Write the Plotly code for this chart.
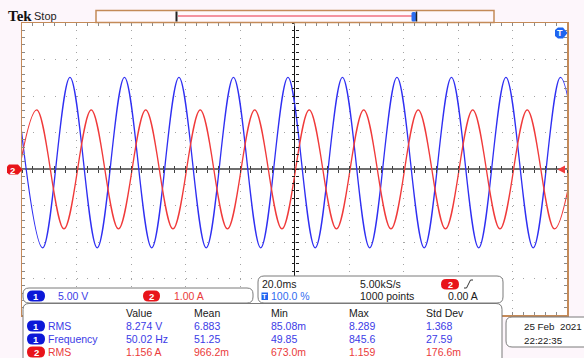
import plotly.graph_objects as go

W, H = 584, 358

# Channel 1 (blue, volts): times (ms, relative to screen centre) of successive peaks / troughs
ch1_time_ms = [-102.4, -92.4, -82.4, -72.4, -62.4, -52.4, -42.4, -32.4, -22.4, -12.4, -2.4,
               7.6, 17.6, 27.6, 37.6, 47.6, 57.6, 67.6, 77.6, 87.6, 97.6, 107.6]
ch1_volts = [12.55, -10.8, 12.55, -10.8, 12.55, -10.8, 12.55, -10.8, 12.55, -10.8, 12.55,
             -10.8, 12.55, -10.8, 12.55, -10.8, 12.55, -10.8, 12.55, -10.8, 12.55, -10.8]
# Channel 2 (red, amps)
ch2_time_ms = [-104.6, -94.6, -84.6, -74.6, -64.6, -54.6, -44.6, -34.6, -24.6, -14.6, -4.6,
               5.4, 15.4, 25.4, 35.4, 45.4, 55.4, 65.4, 75.4, 85.4, 95.4, 105.4]
ch2_amps = [-1.64, 1.62, -1.64, 1.62, -1.64, 1.62, -1.64, 1.62, -1.64, 1.62, -1.64,
            1.62, -1.64, 1.62, -1.64, 1.62, -1.64, 1.62, -1.64, 1.62, -1.64, 1.62]

ch1_scale = 5.00   # V/div
ch2_scale = 1.00   # A/div
time_per_div = 20.0  # ms/div

ch_labels = ["5.00 V", "1.00 A"]
timebase_texts = ["20.0ms", "5.00kS/s", "100.0 %", "1000 points", "0.00 A"]

meas_header = ["Value", "Mean", "Min", "Max", "Std Dev"]
meas_channel = [1, 1, 2]
meas_name = ["RMS", "Frequency", "RMS"]
meas_value = ["8.274 V", "50.02 Hz", "1.156 A"]
meas_mean = ["6.883", "51.25", "966.2m"]
meas_min = ["85.08m", "49.85", "673.0m"]
meas_max = ["8.289", "845.6", "1.159"]
meas_std = ["1.368", "27.59", "176.6m"]
date_text = ["25 Feb  2021", "22:22:35"]

# ---------------- styling ----------------
BLUE = "#2f2ff2"
RED = "#f03a3a"
TBLUE = "#3b3be6"
TRED = "#ea3b3b"
PILL_BLUE = "#0c18d8"
PILL_RED = "#e8141a"
BROWN = "#c48a58"
GRAYBOX = "#7a7a7a"
FONT = "Liberation Sans, Arial, sans-serif"


def X(p):
    return p / W


def Y(p):
    return 1 - p / H


def rrect_path(x0, y0, x1, y1, r):
    return (f"M {X(x0 + r)},{Y(y0)} L {X(x1 - r)},{Y(y0)} Q {X(x1)},{Y(y0)} {X(x1)},{Y(y0 + r)} "
            f"L {X(x1)},{Y(y1 - r)} Q {X(x1)},{Y(y1)} {X(x1 - r)},{Y(y1)} "
            f"L {X(x0 + r)},{Y(y1)} Q {X(x0)},{Y(y1)} {X(x0)},{Y(y1 - r)} "
            f"L {X(x0)},{Y(y0 + r)} Q {X(x0)},{Y(y0)} {X(x0 + r)},{Y(y0)} Z")


def poly_path(pts):
    s = "M " + " L ".join(f"{X(a)},{Y(b)}" for a, b in pts)
    return s + " Z"


shapes = []
annotations = []


def txt(x, y, s, color="#202020", size=10.5, bold=False, anchor="left", family=FONT):
    if bold:
        s = f"<b>{s}</b>"
    annotations.append(dict(x=X(x), y=Y(y), xref="paper", yref="paper", text=s,
                            showarrow=False, xanchor=anchor, yanchor="middle",
                            borderpad=0, font=dict(family=family, size=size, color=color)))


def box(x0, y0, x1, y1, r=6, line=GRAYBOX, fill="white", lw=1):
    shapes.append(dict(type="path", path=rrect_path(x0, y0, x1, y1, r), xref="paper", yref="paper",
                       line=dict(color=line, width=lw), fillcolor=fill, layer="above"))


def pill(x0, y0, x1, y1, color, label, size=9.5):
    shapes.append(dict(type="path", path=rrect_path(x0, y0, x1, y1, (y1 - y0) / 2),
                       xref="paper", yref="paper", line=dict(width=0), fillcolor=color, layer="above"))
    txt((x0 + x1) / 2, (y0 + y1) / 2 + 0.5, label, color="white", size=size, bold=True, anchor="center")


def line(x0, y0, x1, y1, color, width=1):
    shapes.append(dict(type="line", x0=X(x0), y0=Y(y0), x1=X(x1), y1=Y(y1), xref="paper", yref="paper",
                       line=dict(color=color, width=width), layer="above"))


# ---------------- figure ----------------
fig = go.Figure()
fig.add_trace(go.Scatter(x=ch1_time_ms, y=[v / ch1_scale for v in ch1_volts], mode="lines",
                         line=dict(color=BLUE, width=1.3, shape="spline", smoothing=1.0),
                         hoverinfo="skip"))
fig.add_trace(go.Scatter(x=ch2_time_ms, y=[a / ch2_scale for a in ch2_amps], mode="lines",
                         line=dict(color=RED, width=1.3, shape="spline", smoothing=1.0),
                         hoverinfo="skip"))
# empty traces so the centre-tick axes are created
for xa, ya in [("x2", "y"), ("x3", "y"), ("x", "y2"), ("x", "y3")]:
    fig.add_trace(go.Scatter(x=[], y=[], xaxis=xa, yaxis=ya, hoverinfo="skip"))

XD = [X(22), X(567)]
YD = [Y(315), Y(23)]
XR = [-5 * time_per_div, 5 * time_per_div]
YR = [-4, 4]
TICK = "#8a8a8a"

common_x = dict(range=XR, domain=XD, showticklabels=False, fixedrange=True)
common_y = dict(range=YR, domain=YD, showticklabels=False, fixedrange=True)

fig.update_layout(
    width=W, height=H, margin=dict(l=0, r=0, t=0, b=0),
    paper_bgcolor="#fdf6fb", plot_bgcolor="white", showlegend=False, hovermode=False,
    xaxis=dict(**common_x, dtick=time_per_div, tick0=0, showgrid=True, gridcolor="#a4a4a4",
               gridwidth=1, griddash="1px,6.3px", zeroline=True, zerolinecolor="#151515",
               zerolinewidth=1, showline=True, linecolor=BROWN, linewidth=1.5, mirror="allticks",
               ticks="inside", ticklen=3, tickcolor=TICK, tickwidth=1,
               minor=dict(dtick=time_per_div / 5, ticks="inside", ticklen=3, tickcolor=TICK, showgrid=False)),
    yaxis=dict(**common_y, dtick=1, tick0=0, showgrid=True, gridcolor="#a4a4a4", gridwidth=1,
               griddash="1px,9.9px", zeroline=True, zerolinecolor="#6e6e6e", zerolinewidth=2,
               showline=True, linecolor=BROWN, linewidth=1.5, mirror="allticks",
               ticks="inside", ticklen=3, tickcolor=TICK, tickwidth=1,
               minor=dict(dtick=0.2, ticks="inside", ticklen=3, tickcolor=TICK, showgrid=False)),
    xaxis2=dict(**common_x, overlaying="x", anchor="free", position=Y(169), showgrid=False,
                zeroline=False, showline=False, ticks="outside", ticklen=3, tickcolor="#404040",
                dtick=time_per_div / 5, tick0=0),
    xaxis3=dict(**common_x, overlaying="x", anchor="free", position=Y(169), showgrid=False,
                zeroline=False, showline=False, ticks="inside", ticklen=3, tickcolor="#404040",
                dtick=time_per_div / 5, tick0=0),
    yaxis2=dict(**common_y, overlaying="y", anchor="free", position=X(294.5), showgrid=False,
                zeroline=False, showline=False, ticks="outside", ticklen=3, tickcolor="#202020",
                dtick=0.2, tick0=0),
    yaxis3=dict(**common_y, overlaying="y", anchor="free", position=X(294.5), showgrid=False,
                zeroline=False, showline=False, ticks="inside", ticklen=3, tickcolor="#202020",
                dtick=0.2, tick0=0),
)

# ---------------- top status bar ----------------
txt(7, 16.5, "Tek", color="#111111", size=15, bold=True, family="Liberation Serif, Times New Roman, serif")
txt(33, 16.5, "Stop", color="#222222", size=11)
box(96, 10.5, 494, 22.5, r=0, line=BROWN, fill="#fff8fc", lw=1.5)
line(178, 16, 412, 16, "#f07080", 1.6)
line(176.5, 11.5, 176.5, 21.5, "#222222", 2)
shapes.append(dict(type="path", path=rrect_path(411.5, 12, 416, 21.5, 1.5), xref="paper", yref="paper",
                   line=dict(width=0), fillcolor="#2a6cf0", layer="above"))
line(416.5, 11.5, 416.5, 21.5, "#222222", 1.5)

# ---------------- screen markers ----------------
shapes.append(dict(type="path", path=poly_path([(9, 164.5), (18, 164.5), (22.5, 169.5), (18, 174.5),
                                                (9, 174.5), (7, 172.5), (7, 166.5)]),
                   xref="paper", yref="paper", line=dict(width=0), fillcolor=PILL_RED, layer="above"))
txt(12.5, 170, "2", color="white", size=9.5, bold=True, anchor="center")
shapes.append(dict(type="path", path=poly_path([(557.5, 169.5), (565, 165.5), (565, 173.5)]),
                   xref="paper", yref="paper", line=dict(width=0), fillcolor=RED, layer="above"))
shapes.append(dict(type="path", path=poly_path([(558, 27.5), (563, 27.5), (567.5, 33), (563, 38.5),
                                                (558, 38.5), (555, 36), (555, 30)]),
                   xref="paper", yref="paper", line=dict(width=0), fillcolor="#1e64f0", layer="above"))
txt(560, 33.5, "T", color="white", size=9, bold=True, anchor="center")

# ---------------- channel box ----------------
box(23, 288, 253, 303)
pill(27, 290.5, 45, 301.5, PILL_BLUE, "1")
txt(57, 296, ch_labels[0], color=TBLUE)
pill(143, 290.5, 160, 301.5, PILL_RED, "2")
txt(173, 296, ch_labels[1], color=TRED)

# ---------------- timebase box ----------------
box(258, 276, 503, 303)
txt(261, 284, timebase_texts[0])
txt(359, 284, timebase_texts[1])
pill(441, 279, 459, 289.5, PILL_RED, "2", size=9)
shapes.append(dict(type="path", path=f"M {X(464)},{Y(288)} L {X(466.5)},{Y(288)} L {X(470.5)},{Y(280)} L {X(473)},{Y(280)}",
                   xref="paper", yref="paper", line=dict(color="#333333", width=1), layer="above"))
shapes.append(dict(type="rect", x0=X(261.5), x1=X(268), y0=Y(300), y1=Y(292.5), xref="paper", yref="paper",
                   line=dict(width=0), fillcolor="#1e64f0", layer="above"))
txt(264.8, 296.5, "T", color="white", size=7.5, bold=True, anchor="center")
txt(270, 296, timebase_texts[2], color="#2f6cf0")
txt(359, 296, timebase_texts[3])
txt(447, 296, timebase_texts[4])

# ---------------- measurement box ----------------
box(23, 303.5, 502, 372)
col_x = [125, 193, 270, 348, 425]
for cx, h in zip(col_x, meas_header):
    txt(cx, 313, h)
row_y = [326, 339, 352]
for i, ry in enumerate(row_y):
    ch = meas_channel[i]
    pc = PILL_BLUE if ch == 1 else PILL_RED
    tc = TBLUE if ch == 1 else TRED
    pill(27, ry - 5.5, 45, ry + 5.5, pc, str(ch))
    txt(47, ry, meas_name[i], color=tc)
    for cx, val in zip(col_x, [meas_value[i], meas_mean[i], meas_min[i], meas_max[i], meas_std[i]]):
        txt(cx, ry, val, color=tc)

# ---------------- date box ----------------
box(506, 317, 596, 347)
txt(523, 326, date_text[0], size=9.8)
txt(523, 340, date_text[1], size=9.8)

fig.update_layout(shapes=shapes, annotations=annotations)
fig.write_html("out.html", config={"displayModeBar": False, "staticPlot": True},
               post_script="document.body.style.margin='0';document.body.style.overflow='hidden';")
